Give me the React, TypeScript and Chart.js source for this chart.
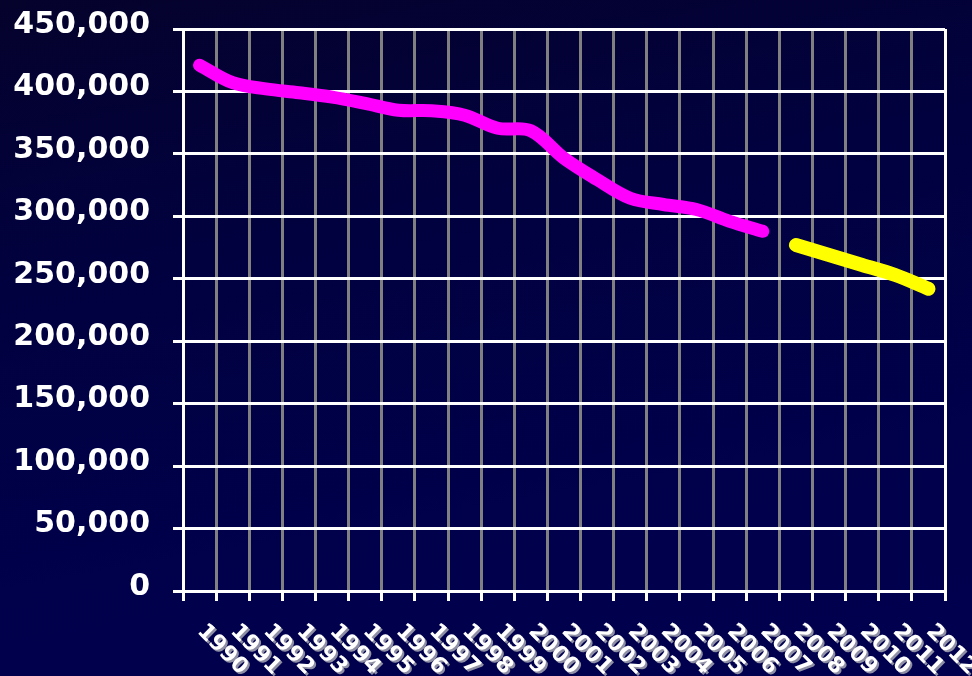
import React, { useEffect, useRef } from "react";
import { Chart, registerables } from "chart.js";

Chart.register(...registerables);

const years = [
  "1990", "1991", "1992", "1993", "1994", "1995", "1996", "1997", "1998", "1999",
  "2000", "2001", "2002", "2003", "2004", "2005", "2006", "2007", "2008", "2009",
  "2010", "2011", "2012",
];

// 1990–2007 (magenta)
const actualValues = [
  421000, 407000, 402000, 399000, 395500, 390500, 385000, 384500, 381000, 370500,
  368500, 346500, 329500, 314500, 309500, 305500, 296000, 288000,
];

// 2008–2012 (yellow)
const projectedValues = [277000, 269000, 261000, 253000, 242000];

const yMin = 0;
const yMax = 450000;
const yStep = 50000;

const FONT = "'DejaVu Sans', sans-serif";

export default function App() {
  const ref = useRef<HTMLCanvasElement>(null);

  useEffect(() => {
    if (!ref.current) return;
    const offset = years.length - projectedValues.length;
    const magenta = years.map((_, i) => (i < actualValues.length ? actualValues[i] : null));
    const yellow = years.map((_, i) => (i >= offset ? projectedValues[i - offset] : null));

    const xLabelPlugin = {
      id: "rotatedXLabels",
      afterDraw(chart: any) {
        const xs = chart.scales.x;
        const ctx = chart.ctx as CanvasRenderingContext2D;
        ctx.save();
        ctx.font = `bold 22px ${FONT}`;
        ctx.textAlign = "left";
        ctx.textBaseline = "middle";
        years.forEach((lab, i) => {
          const px = xs.getPixelForValue(i);
          ctx.save();
          ctx.translate(px + 1, xs.top + 37);
          ctx.rotate(Math.PI / 4);
          ctx.shadowColor = "rgba(150,150,170,0.95)";
          ctx.shadowOffsetX = 2;
          ctx.shadowOffsetY = 2;
          ctx.shadowBlur = 0;
          ctx.fillStyle = "#ffffff";
          ctx.fillText(lab, 0, 0);
          ctx.restore();
        });
        ctx.restore();
      },
    };

    const chart = new Chart(ref.current, {
      type: "line",
      data: {
        labels: years,
        datasets: [
          {
            data: magenta,
            borderColor: "#ff00ff",
            backgroundColor: "#ff00ff",
            borderWidth: 13,
            tension: 0.35,
            pointRadius: 0,
            borderCapStyle: "round",
            borderJoinStyle: "round",
            fill: false,
            spanGaps: false,
          },
          {
            data: yellow,
            borderColor: "#ffff00",
            backgroundColor: "#ffff00",
            borderWidth: 14,
            tension: 0.35,
            pointRadius: 0,
            borderCapStyle: "round",
            borderJoinStyle: "round",
            fill: false,
            spanGaps: false,
          },
        ],
      },
      options: {
        animation: false,
        responsive: false,
        events: [],
        layout: { padding: { top: 29, right: 27, bottom: 0, left: 0 } },
        plugins: { legend: { display: false }, tooltip: { enabled: false } },
        scales: {
          x: {
            offset: true,
            ticks: { display: false },
            grid: {
              offset: true,
              color: (c: any) => (c.index === undefined ? "#ffffff" : "#808080"),
              lineWidth: 3,
              tickLength: 10,
              tickColor: "#ffffff",
            },
            border: { color: "#ffffff", width: 3 },
            afterFit(s: any) {
              s.height = 85;
              s.paddingLeft = 0;
              s.paddingRight = 0;
            },
          },
          y: {
            min: yMin,
            max: yMax,
            ticks: {
              stepSize: yStep,
              color: "#ffffff",
              padding: 23,
              labelOffset: -4,
              font: { family: FONT, size: 30, weight: "bold" },
              callback: (v: any) => Number(v).toLocaleString("en-US"),
            },
            grid: { color: "#ffffff", lineWidth: 3, tickLength: 10, tickColor: "#ffffff" },
            border: { color: "#ffffff", width: 3 },
            afterFit(s: any) {
              s.width = 183;
              s.paddingTop = 0;
              s.paddingBottom = 0;
            },
          },
        },
      },
      plugins: [xLabelPlugin],
    } as any);

    return () => chart.destroy();
  }, []);

  return (
    <div
      style={{
        position: "absolute",
        left: 0,
        top: 0,
        width: 972,
        height: 676,
        background: "linear-gradient(170deg, #05022c 0%, #010140 35%, #00004b 70%, #00004f 100%)",
      }}
    >
      <canvas ref={ref} width={972} height={676} style={{ display: "block" }} />
    </div>
  );
}
